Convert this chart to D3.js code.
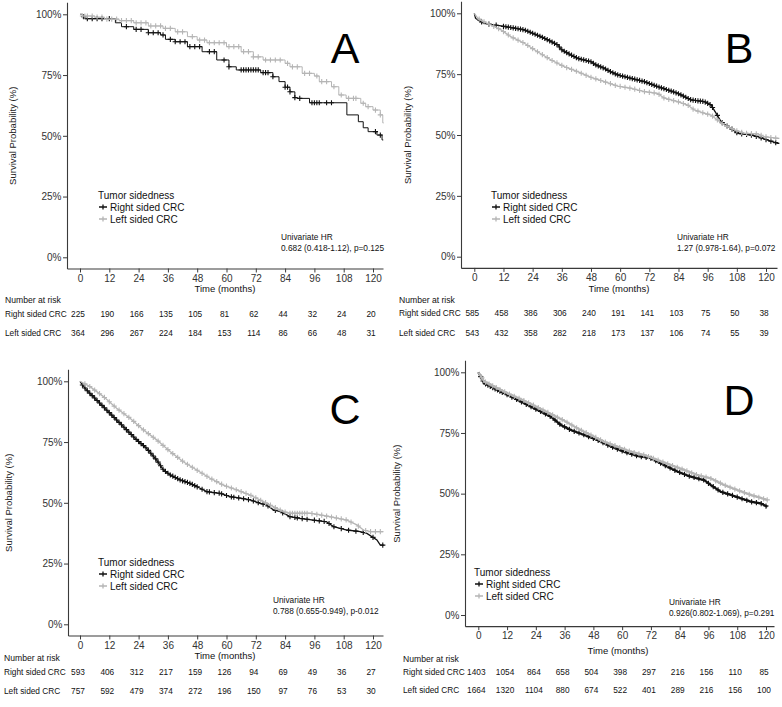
<!DOCTYPE html>
<html><head><meta charset="utf-8">
<script src="https://cdn.jsdelivr.net/npm/d3@7/dist/d3.min.js"></script>
<style>
body{margin:0;background:#fff}
svg{display:block}
text{font-family:"Liberation Sans",Arial,Helvetica,sans-serif}
</style>
</head><body>
<svg id="chart" width="782" height="707"></svg>
<script>
// ---------------- DATA ----------------
const monthTicks = [0,12,24,36,48,60,72,84,96,108,120];
const survTicks = [0,25,50,75,100];
const groupNames = ["Right sided CRC","Left sided CRC"];
const legendTitle = "Tumor sidedness";
const panelLetters = ["A","B","C","D"];
const hrLine1 = "Univariate HR";
const hrLine2 = ["0.682 (0.418-1.12), p=0.125","1.27 (0.978-1.64), p=0.072","0.788 (0.655-0.949), p-0.012","0.926(0.802-1.069), p=0.291"];

// survival curves: [months, survival %]
const curveA_right = [[0,100],[1,99],[2,98.2],[14.5,96.5],[17,94.9],[22,93.8],[28,92.4],[33,91.5],[35,89.7],[39,88.7],[44,86.7],[50,84.6],[56,81.2],[61,78.4],[64,77.1],[74,76],[79,74.3],[81.5,72.3],[84,70],[86,68.1],[88,65.7],[89,65.4],[94,63.6],[109.3,58.6],[114,55.8],[116,53.3],[118,51.7],[121.6,50.3],[123.7,48.3],[124.2,48.3]];
const curveA_left = [[0,100],[1,99.3],[6,98.8],[10,98],[16,97.4],[22,96.5],[28,95.2],[34,94.2],[39,92.8],[44,90.8],[48,89.4],[52,88.3],[60,86.7],[66,84.6],[71,82.5],[75,81.2],[84,79.8],[86,78.4],[91,75.7],[96,74.6],[98,72.3],[103,70.2],[106,66.8],[109,65.4],[115,63.4],[117,62],[120,60.6],[123,58.6],[124,55.3],[124.4,55.3]];
const curveB_right = [[0,100],[0.5,98],[1.4,97.3],[4,95.9],[11,94.8],[16,94],[20.6,93.2],[24,91.8],[27.4,90.4],[31,88.7],[34.3,87],[36,85],[38.4,83.6],[42.5,81.5],[48,80.1],[50,78.8],[53.5,77.4],[56,76],[59,74.7],[64.5,73.3],[70,71.9],[73,70.8],[75.4,69.9],[79.6,68.5],[83.7,67.1],[86.4,65.8],[89.2,64.4],[94.7,63.7],[97.4,62.3],[99.5,58.9],[101.5,55.5],[103.5,54],[105.6,52.7],[108.4,50.7],[113.9,50],[116.6,49.3],[120.7,47.9],[124.8,46.6],[125.5,46.6]];
const curveB_left = [[0,100],[1.4,98],[4,96.5],[6.9,95.2],[11,93.2],[15,90.4],[20.6,87.7],[26,84.2],[31.6,80.8],[37,78.1],[42.5,76],[48,73.7],[53.5,71.9],[59,70.1],[64.5,69.2],[70,67.8],[75.4,67.1],[78.2,65.1],[83.7,63.7],[87.8,62.3],[90.5,60.3],[94.7,58.9],[97.4,58.2],[100,56.2],[102.9,54.1],[107,52.1],[111,50.7],[116.6,50.5],[119.3,49.3],[124.8,48.6],[125.5,48.6]];
const curveC_right = [[0,100],[1,98.5],[2.7,96.4],[6.8,92.3],[10.9,88.2],[15,84.1],[19.1,80],[23.2,75.9],[27.3,72.4],[31.4,67.6],[34.2,63.5],[36.9,61.5],[41,59.4],[45.1,58],[49.2,56],[51.9,54.6],[57.4,53.9],[61.5,52.5],[65.6,51.9],[69.7,51.2],[73.8,49.8],[76.5,49.1],[79.2,47.1],[82,46.4],[84.7,45],[86,44.3],[90.2,43.6],[95.6,42.9],[101,42.2],[103.8,40.2],[106.6,39.5],[109.3,38.8],[114.8,38.1],[117.5,37.4],[121.6,34.7],[123,32.6],[124.4,32.6]];
const curveC_left = [[0,100],[4.1,97.8],[9.6,93.7],[15,88.9],[20.5,84.8],[26,80],[31.4,75.9],[36.9,71.1],[42.3,66.9],[47.8,63.5],[53.3,60.1],[58.7,57.3],[64.2,55.3],[69.7,53.2],[75.1,50.5],[79.2,48.4],[83.3,46.4],[86,45.7],[94.3,45.7],[98.4,45],[103.8,44],[109.3,42.9],[113.4,40.9],[116.1,38.8],[118.9,38.1],[124.3,38.1]];
const curveD_right = [[0,100],[2.5,95.5],[8,92.7],[13.6,90],[19.2,87.2],[24.7,84.5],[30.3,81.7],[34.4,78.3],[38.6,76.2],[44.2,74.2],[49.7,72.1],[55.3,69.4],[60.8,67.3],[66.4,65.5],[71.9,64.6],[77.5,61.8],[83,59.1],[88.6,57],[94.2,55.6],[96.9,53.6],[101.1,50.8],[105.3,49.5],[109.4,48.1],[113.6,46.7],[117.8,46],[120.6,44.6]];
const curveD_left = [[0,100],[2.5,96.2],[8,93.4],[13.6,90.7],[19.2,88.3],[24.7,85.6],[30.3,82.8],[35.8,80.1],[41.4,76.9],[46.9,74.2],[52.5,71.4],[58,69.4],[63.6,67.3],[69.2,65.9],[74.7,63.9],[80.3,61.8],[85.8,59.8],[91.4,57.7],[96.9,56.3],[102.5,53.6],[108,51.5],[113.6,49.5],[120.6,47.4]];

// censoring times (months)
const censorA_right = [1.5,3,5,7,9,12,19,23,25,28,30,32,34,37,39,41,43,45,47,49,53,55,59,61,66,67,68,69,70,71,72,73,75,76,77,79,84,85,86,88,90,95,96,97,98,101,103,121,123];
const censorA_left = [1,2,3,5,7,9,11,13,15,17,19,21,23,25,27,29,31,33,35,37,40,42,46,49,51,53,55,57,59,61,63,65,67,69,71,73,76,78,80,82,85,87,89,92,94,97,99,101,104,107,110,112,113,116,118,121,123];
const censorB_right = [3,6,9,12,13,14,15,16,17,18,19,20,21,22,23,24,25,26,27,28,29,30,31,32,33,34,35,36,37,38,39,40,41,42,43,44,45,46,47,48,49,50,51,52,53,54,55,56,57,58,59,60,61,62,63,64,65,66,67,68,69,70,71,72,73,74,75,76,77,78,79,80,81,82,83,84,85,86,87,88,89,90,91,92,93,94,95,96,97,98,100,102,104,106,108,110,112,114,116,118,120,122,124];
const censorB_left = [2,4,6,8,10,12,14,16,18,20,22,24,26,28,30,32,34,36,38,40,42,44,46,48,50,52,54,56,58,60,62,64,66,68,70,72,74,76,78,80,82,84,86,88,90,92,94,96,98,100,102,104,106,108,110,112,114,116,118,120,122,124];
const censorC_right = [1,2,3,4,5,6,7,8,9,10,11,12,13,14,15,16,17,18,19,20,21,22,23,24,25,26,27,28,29,30,31,32,33,34,35,36,37,38,39,40,41,42,43,44,45,46,47,48,50,52,53,55,57,58,60,62,63,65,67,69,71,73,75,77,80,83,86,88,89,91,93,96,98,100,102,104,107,110,113,116,120,124];
const censorC_left = [2,4,6,8,10,12,14,16,18,20,22,24,26,28,30,32,34,36,38,40,42,44,46,48,50,52,54,56,58,60,62,64,66,68,70,72,74,76,78,80,82,84,86,87,88,89,90,91,92,93,95,97,99,101,103,105,107,109,111,114,117,119,121,123];
const censorD_right = [1,2,3,4,5,6,7,8,9,10,12,14,16,18,20,22,24,26,28,30,32,34,36,38,40,42,44,46,48,50,52,54,56,58,60,62,64,66,68,70,72,74,76,78,80,82,84,86,88,90,92,94,96,98,100,102,104,106,108,110,112,114,116,118,120];
const censorD_left = [1.5,3,4.5,6,7.5,9,11,13,15,17,19,21,23,25,27,29,31,33,35,37,39,41,43,45,47,49,51,53,55,57,59,61,63,65,67,69,71,73,75,77,79,81,83,85,87,89,91,93,95,97,99,101,103,105,107,109,111,113,115,117,119,120.5];

// number at risk
const riskA_right = [225,190,166,135,105,81,62,44,32,24,20];
const riskA_left  = [364,296,267,224,184,153,114,86,66,48,31];
const riskB_right = [585,458,386,306,240,191,141,103,75,50,38];
const riskB_left  = [543,432,358,282,218,173,137,106,74,55,39];
const riskC_right = [593,406,312,217,159,126,94,69,49,36,27];
const riskC_left  = [757,592,479,374,272,196,150,97,76,53,30];
const riskD_right = [1403,1054,864,658,504,398,297,216,156,110,85];
const riskD_left  = [1664,1320,1104,880,674,522,401,289,216,156,100];

// ---------------- LAYOUT ----------------
const colors = ["#111111","#b5b5b5"];
const panels = [
  {curves:[curveA_right,curveA_left], censors:[censorA_right,censorA_left], risk:[riskA_right,riskA_left],
   x0:80, x120:373, axL:67, axR:383, y0:257.3, y100:14.3, step:true, lw:1,
   letter:[345,63], ytitleX:12, legend:[98,195], hr:[281,237],
   timeLbl:[225,288], narY:300, labelX:5, rowY:[314,333]},
  {curves:[curveB_right,curveB_left], censors:[censorB_right,censorB_left], risk:[riskB_right,riskB_left],
   x0:474.3, x120:766, axL:461, axR:777, y0:256.7, y100:13.3, step:false, lw:1.3,
   letter:[739,63], ytitleX:407, legend:[491,195], hr:[677,237],
   timeLbl:[619,288], narY:300, labelX:399, rowY:[313,333]},
  {curves:[curveC_right,curveC_left], censors:[censorC_right,censorC_left], risk:[riskC_right,riskC_left],
   x0:80, x120:373, axL:68, axR:383, y0:624.3, y100:381.3, step:false, lw:1.3,
   letter:[345,424], ytitleX:8, legend:[98,562], hr:[273,600],
   timeLbl:[225,655], narY:658, labelX:4, rowY:[672,691]},
  {curves:[curveD_right,curveD_left], censors:[censorD_right,censorD_left], risk:[riskD_right,riskD_left],
   x0:478.3, x120:766, axL:465, axR:774, y0:615, y100:372.3, step:false, lw:2.2,
   letter:[739,415], ytitleX:396, legend:[474,572], hr:[669,602],
   timeLbl:[618,650], narY:659, labelX:403, rowY:[672,690]}
];

const svg = d3.select("#chart");
svg.append("rect").attr("width",782).attr("height",707).attr("fill","#fff");

function valueAt(curve, t, step){
  let i = d3.bisector(d=>d[0]).right(curve, t) - 1;
  if (i < 0) i = 0;
  if (step || i >= curve.length-1) return curve[i][1];
  const a = curve[i], b = curve[i+1];
  return a[1] + (b[1]-a[1])*(t-a[0])/(b[0]-a[0]);
}

function plusPath(x, y, r){ return `M${x-r},${y}H${x+r}M${x},${y-r}V${y+r}`; }

panels.forEach((p, pi) => {
  const g = svg.append("g");
  const xb = d3.scaleLinear().domain([0,120]).range([p.x0,p.x120]);
  const x = d3.scaleLinear().domain([xb.invert(p.axL), xb.invert(p.axR)]).range([p.axL,p.axR]);
  const yb = d3.scaleLinear().domain([0,100]).range([p.y0,p.y100]);
  const yLo = -4.6, yHi = 105;
  const y = d3.scaleLinear().domain([yLo,yHi]).range([yb(yLo), yb(yHi)]);

  // axes
  const xa = g.append("g").attr("transform",`translate(0,${y(yLo)})`)
    .call(d3.axisBottom(x).tickValues(monthTicks).tickSize(4).tickPadding(2).tickSizeOuter(0));
  const ya = g.append("g").attr("transform",`translate(${p.axL},0)`)
    .call(d3.axisLeft(y).tickValues(survTicks).tickFormat(d=>d+"%").tickSize(4).tickPadding(1.5).tickSizeOuter(0));
  [xa,ya].forEach(a=>{
    a.select(".domain").attr("stroke","#3a3a3a").attr("stroke-width",1.1);
    a.selectAll(".tick line").attr("stroke","#3a3a3a");
    a.selectAll(".tick text").attr("fill","#333").attr("font-size",10)
      .attr("font-family","Liberation Sans, Arial, sans-serif");
  });

  // curves
  const line = d3.line().x(d=>x(d[0])).y(d=>y(d[1])).curve(p.step ? d3.curveStepAfter : d3.curveLinear);
  p.curves.forEach((c, si) => {
    g.append("path").datum(c).attr("d", line).attr("fill","none")
      .attr("stroke", colors[si]).attr("stroke-width", p.lw);
    const cens = p.censors[si].map(t => plusPath(x(t), y(valueAt(c, t, p.step)), 2.6)).join("");
    g.append("path").attr("d", cens).attr("fill","none").attr("stroke", colors[si]).attr("stroke-width",1.1);
  });

  // panel letter
  g.append("text").attr("x",p.letter[0]).attr("y",p.letter[1]).attr("text-anchor","middle")
    .attr("font-size",43).attr("fill","#000").text(panelLetters[pi]);

  // y title
  g.append("text").attr("transform",`translate(${p.ytitleX},${(p.y0+p.y100)/2}) rotate(-90)`)
    .attr("text-anchor","middle").attr("dominant-baseline","central")
    .attr("font-size",9.5).attr("fill","#222").text("Survival Probability (%)");

  // legend
  const [lx, ly] = p.legend;
  g.append("text").attr("x",lx).attr("y",ly).attr("dominant-baseline","central")
    .attr("font-size",10).attr("fill","#111").text(legendTitle);
  groupNames.forEach((nm, si) => {
    const ry = ly + 12*(si+1);
    g.append("path").attr("d",`M${lx+1},${ry}H${lx+9}` + plusPath(lx+5, ry, 2.6))
      .attr("stroke", colors[si]).attr("stroke-width",1.3).attr("fill","none");
    g.append("text").attr("x",lx+12).attr("y",ry).attr("dominant-baseline","central")
      .attr("font-size",10).attr("fill","#111").text(nm);
  });

  // HR
  g.append("text").attr("x",p.hr[0]).attr("y",p.hr[1]).attr("dominant-baseline","central")
    .attr("font-size",8.3).attr("fill","#111").text(hrLine1);
  g.append("text").attr("x",p.hr[0]).attr("y",p.hr[1]+10.8).attr("dominant-baseline","central")
    .attr("font-size",8.3).attr("fill","#111").text(hrLine2[pi]);

  // risk table
  g.append("text").attr("x",p.timeLbl[0]).attr("y",p.timeLbl[1]).attr("text-anchor","middle")
    .attr("dominant-baseline","central").attr("font-size",9.5).attr("fill","#111").text("Time (months)");
  g.append("text").attr("x",p.labelX).attr("y",p.narY).attr("dominant-baseline","central")
    .attr("font-size",8.6).attr("fill","#111").text("Number at risk");
  groupNames.forEach((nm, si) => {
    const ry = p.rowY[si];
    g.append("text").attr("x",p.labelX).attr("y",ry).attr("dominant-baseline","central")
      .attr("font-size",8.3).attr("fill","#111").text(nm);
    g.selectAll(null).data(p.risk[si]).enter().append("text")
      .attr("x",(d,i)=>x(monthTicks[i]) - 2).attr("y",ry).attr("text-anchor","middle")
      .attr("dominant-baseline","central").attr("font-size",8.3).attr("fill","#111").text(d=>d);
  });
});
</script>
</body></html>
